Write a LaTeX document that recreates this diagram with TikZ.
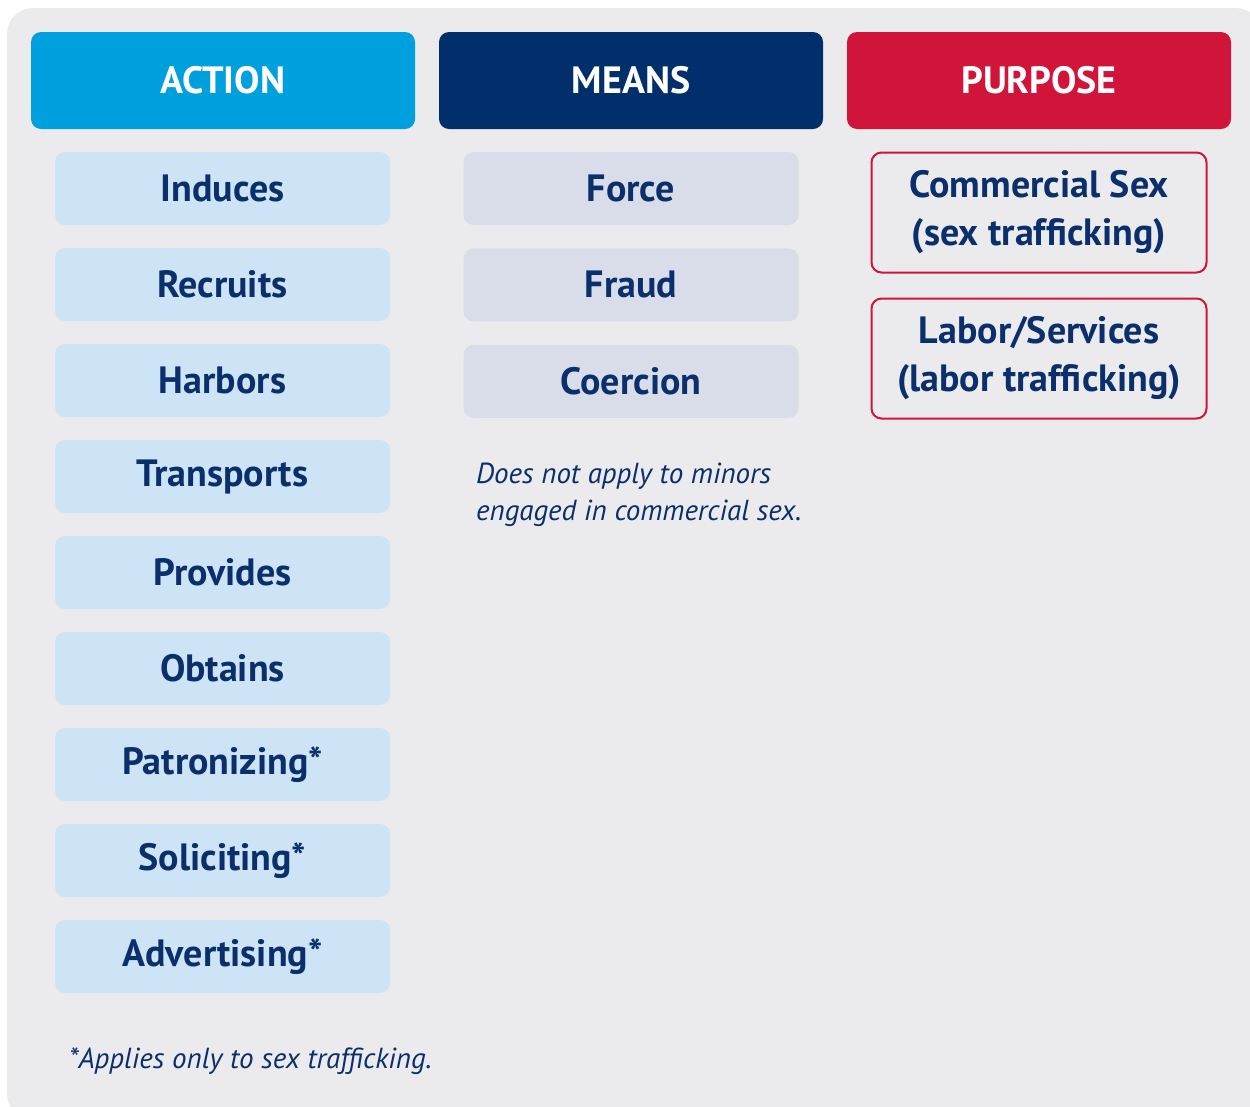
\documentclass[tikz,border=0pt]{standalone}
\usepackage{fontspec}
\setmainfont{PT Sans}
\usepackage{tikz}
\usetikzlibrary{positioning}

\definecolor{bgpanel}{RGB}{235,235,237}
\definecolor{actblue}{RGB}{0,159,221}
\definecolor{actlight}{RGB}{204,228,246}
\definecolor{meannavy}{RGB}{0,47,108}
\definecolor{meanlight}{RGB}{217,221,234}
\definecolor{purpred}{RGB}{208,20,58}
\definecolor{txtnavy}{RGB}{10,47,107}

\tikzset{
    header/.style={rounded corners=10pt, minimum width=384pt, minimum height=97pt,
        inner sep=0pt, text=white, font=\fontsize{38}{44}\selectfont\bfseries},
    actbox/.style={rounded corners=10pt, fill=actlight, minimum width=335pt,
        minimum height=73pt, inner sep=0pt, text=txtnavy,
        font=\fontsize{38}{44}\selectfont\bfseries},
    meanbox/.style={actbox, fill=meanlight},
    purpbox/.style={rounded corners=10pt, draw=purpred, line width=2pt, fill=bgpanel,
        minimum width=335pt, minimum height=120pt, inner sep=0pt, align=center,
        text=txtnavy, font=\fontsize{38}{48}\selectfont\bfseries},
    note/.style={inner sep=0pt, text=txtnavy, align=left,
        font=\fontsize{29}{37}\selectfont\itshape}
}

\begin{document}
\begin{tikzpicture}[x=1pt,y=-1pt]
    \useasboundingbox (0,0) rectangle (1250,1106);
    % Fond
    \fill[bgpanel, rounded corners=26pt] (7,8) rectangle (1262,1120);

    % En-tetes
    \node[header, fill=actblue] (action) at (223,80.5) {ACTION};
    \node[header, fill=meannavy] (means) at (631,80.5) {MEANS};
    \node[header, fill=purpred] (purpose) at (1039,80.5) {PURPOSE};

    % Colonne action
    \foreach \txt [count=\i] in {Induces,Recruits,Harbors,Transports,Provides,
        Obtains,Patronizing*,Soliciting*,Advertising*} {
        \node[actbox] (act\i) at (222.5,{188.5+96*(\i-1)}) {\txt};
    }

    % Colonne moyens
    \node[meanbox] (force) at (631,188.5) {Force};
    \node[meanbox, below=23pt of force] (fraud) {Fraud};
    \node[meanbox, below=23pt of fraud] (coercion) {Coercion};
    \node[note, anchor=north west] (minors) at (476,463)
        {Does not apply to minors\\engaged in commercial sex.};

    % Colonne but
    \node[purpbox] (sexpurp) at (1039,212.5) {Commercial Sex\\(sex trafficking)};
    \node[purpbox, below=24pt of sexpurp] (laborpurp) {Labor/Services\\(labor trafficking)};

    % Note
    \node[note, anchor=west] (footnote) at (69,1061) {*Applies only to sex trafficking.};
\end{tikzpicture}
\end{document}
